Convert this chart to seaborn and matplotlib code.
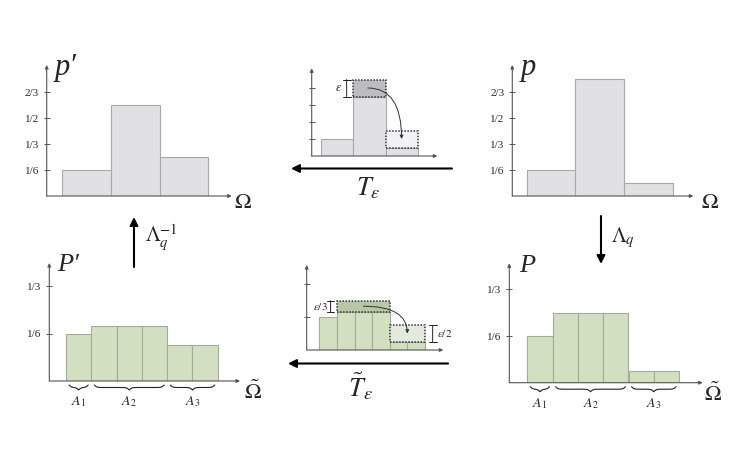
import numpy as np
import pandas as pd
import matplotlib
matplotlib.use("Agg")
import matplotlib.pyplot as plt
from matplotlib.patches import FancyArrowPatch
import seaborn as sns

# ==========================================
# DATA
# ==========================================
P_PRIME = [1/6, 7/12, 1/4]          # p'  (top left)
P_ORIG = [1/6, 3/4, 1/12]           # p   (top right)
P_COARSE = [1/6, 1/4, 1/4, 1/4, 1/24, 1/24]        # P   (bottom right)
P_COARSE_PRIME = [1/6, 7/36, 7/36, 7/36, 1/8, 1/8]  # P'  (bottom left)

EPS = 1/6
# T_eps sketch (top middle): remaining bars and moved block
T_BARS = [1/6, 7/12, 1/12]
T_SRC = (1, 7/12, EPS)      # bar index, bottom, height
T_DST = (2, 1/12, EPS)
# T~_eps sketch (bottom middle)
TT_BARS = [1/6, 7/36, 7/36, 7/36, 1/24, 1/24]
TT_SRC = (2.0, 3, 7/36, EPS / 3)   # centre, width (bins), bottom, height
TT_DST = (4.5, 2, 1/24, EPS / 2)

TOP_TICKS = [1/6, 1/3, 1/2, 2/3]
TOP_TICKLABELS = ["1/6", "1/3", "1/2", "2/3"]
BOTTOM_TICKS = [1/6, 1/3]
BOTTOM_TICKLABELS = ["1/6", "1/3"]
GROUPS = [(0, 0, r"$A_1$"), (1, 3, r"$A_2$"), (4, 5, r"$A_3$")]

# ==========================================
# STYLE
# ==========================================
W, H = 747, 449
GRAY_FACE, GRAY_EDGE = "#e1e0e3", "#a9a8ab"
GREEN_FACE, GREEN_EDGE = "#d3dfc1", "#a2ac98"
AXIS_COL = "#555555"

sns.set_theme(style="white")
plt.rcParams["font.family"] = ["Liberation Serif", "DejaVu Serif"]
plt.rcParams["mathtext.fontset"] = "stix"

fig = plt.figure(figsize=(W / 100, H / 100), dpi=100)


def px(x, y):
    return x / W, 1 - y / H


def make_panel(vals, face, edge, x0, ybase, xend, ytop, bw, b0, scale):
    ax = fig.add_axes([x0 / W, 1 - ybase / H, (xend - x0) / W, (ybase - ytop) / H])
    df = pd.DataFrame({"bin": [str(i) for i in range(len(vals))], "p": vals})
    sns.barplot(data=df, x="bin", y="p", width=1, color=face, saturation=1,
                edgecolor=edge, linewidth=0.8, ax=ax)
    ax.set_xlabel("")
    ax.set_ylabel("")
    ax.set_xticks([])
    left = -0.5 - (b0 - x0) / bw
    ax.set_xlim(left, left + (xend - x0) / bw)
    ax.set_ylim(0, (ybase - ytop) / scale)
    ax.patch.set_alpha(0)
    for s in ax.spines.values():
        s.set_visible(False)
    arrow = dict(arrowstyle="-|>", lw=0.8, color=AXIS_COL, mutation_scale=5,
                 shrinkA=0, shrinkB=0)
    ax.annotate("", xy=(1, 0), xytext=(0, 0), xycoords="axes fraction", arrowprops=arrow)
    ax.annotate("", xy=(0, 1), xytext=(0, 0), xycoords="axes fraction", arrowprops=arrow)
    ax.tick_params(axis="y", direction="inout", length=5, width=0.7, color=AXIS_COL,
                   labelsize=8, pad=3, left=True)
    return ax


def brace(ax, xa, xb, y0, h, beta=20.0):
    xm = (xa + xb) / 2
    half = np.linspace(xa, xm, 60)
    yh = 1 / (1 + np.exp(-beta * (half - xa))) + 1 / (1 + np.exp(-beta * (half - xm)))
    yh = (yh - yh[0]) / (yh[-1] - yh[0])
    xs = np.concatenate([half, (2 * xm - half)[::-1]])
    ys = np.concatenate([yh, yh[::-1]])
    ax.plot(xs, y0 - h * ys, color="#222222", lw=0.8, clip_on=False)


def group_braces(ax, scale):
    for a, b, lab in GROUPS:
        brace(ax, a - 0.5 + 0.12, b + 0.5 - 0.12, -4 / scale, 5 / scale)
        ax.text((a + b) / 2, -21 / scale, lab, ha="center", va="center", fontsize=10)


def box(ax, x, bottom, height, width, face):
    ax.bar(x, height, bottom=bottom, width=width, color=face, edgecolor="#333333",
           linewidth=1.1, linestyle=(0, (1, 1)), zorder=3)


def bracket(ax, x, y0, y1):
    ax.annotate("", xy=(x, y1), xytext=(x, y0),
                arrowprops=dict(arrowstyle="|-|, widthA=0.35, widthB=0.35", lw=0.7,
                                color="#222222", mutation_scale=8, shrinkA=0, shrinkB=0),
                annotation_clip=False)


def curved(ax, start, end):
    ax.annotate("", xy=end, xytext=start,
                arrowprops=dict(arrowstyle="-|>", connectionstyle="angle3,angleA=0,angleB=90",
                                lw=0.7, color="#333333", mutation_scale=5,
                                shrinkA=0, shrinkB=0), zorder=4)


# ---- top left: p'
ax1 = make_panel(P_PRIME, GRAY_FACE, GRAY_EDGE, 46.7, 196, 231.7, 65, 48.7, 62.3, 156)
ax1.set_yticks(TOP_TICKS, TOP_TICKLABELS)

# ---- top right: p
ax2 = make_panel(P_ORIG, GRAY_FACE, GRAY_EDGE, 512.3, 196, 693.3, 65, 48.7, 526.7, 156)
ax2.set_yticks(TOP_TICKS, TOP_TICKLABELS)

# ---- top middle: T_eps sketch
ax3 = make_panel(T_BARS, GRAY_FACE, GRAY_EDGE, 311.7, 156, 437.3, 68.3, 32.1, 321.3, 102)
ax3.set_yticks(TOP_TICKS, [""] * len(TOP_TICKS))
ax3.tick_params(axis="y", length=4)
box(ax3, T_SRC[0], T_SRC[1], T_SRC[2], 1, "#bdbcbf")
box(ax3, T_DST[0], T_DST[1], T_DST[2], 1, "#f2f2f4")
bracket(ax3, 0.29, T_SRC[1], T_SRC[1] + T_SRC[2])
ax3.text(0.05, T_SRC[1] + T_SRC[2] / 2, r"$\varepsilon$", ha="center", va="center", fontsize=9)
curved(ax3, (T_SRC[0] - 0.05, T_SRC[1] + T_SRC[2] / 2), (T_DST[0], T_DST[1] + T_DST[2] / 2))

# ---- bottom left: P'
ax4 = make_panel(P_COARSE_PRIME, GREEN_FACE, GREEN_EDGE, 49.3, 381, 240, 263, 25.3, 66, 285)
ax4.set_yticks(BOTTOM_TICKS, BOTTOM_TICKLABELS)
group_braces(ax4, 285)

# ---- bottom right: P
ax5 = make_panel(P_COARSE, GREEN_FACE, GREEN_EDGE, 509.3, 382.7, 702.7, 263.3, 25.3, 527.3, 280)
ax5.set_yticks(BOTTOM_TICKS, BOTTOM_TICKLABELS)
group_braces(ax5, 280)

# ---- bottom middle: T~_eps sketch
ax6 = make_panel(TT_BARS, GREEN_FACE, GREEN_EDGE, 306.7, 350, 443.3, 265, 17.6, 319.3, 197)
ax6.set_yticks(BOTTOM_TICKS, [""] * len(BOTTOM_TICKS))
ax6.tick_params(axis="y", length=4)
box(ax6, TT_SRC[0], TT_SRC[2], TT_SRC[3], TT_SRC[1], "#b7c6a4")
box(ax6, TT_DST[0], TT_DST[2], TT_DST[3], TT_DST[1], "#e3eadc")
bracket(ax6, 0.14, TT_SRC[2], TT_SRC[2] + TT_SRC[3])
ax6.text(-0.45, TT_SRC[2] + TT_SRC[3] / 2, r"$\varepsilon/3$", ha="center", va="center",
         fontsize=8)
bracket(ax6, 5.94, TT_DST[2], TT_DST[2] + TT_DST[3])
ax6.text(6.2, TT_DST[2] + TT_DST[3] / 2, r"$\varepsilon/2$", ha="left", va="center",
         fontsize=8, clip_on=False)
curved(ax6, (TT_SRC[0], TT_SRC[2] + TT_SRC[3] / 2), (TT_DST[0], TT_DST[2] + TT_DST[3] / 2))

# ---- panel labels
lab = dict(ha="center", va="center", fontstyle="italic")
fig.text(*px(66, 68), "p\u2032", fontsize=22, **lab)
fig.text(*px(528.5, 68), "p", fontsize=22, **lab)
fig.text(*px(68, 265), "P\u2032", fontsize=19, **lab)
fig.text(*px(527, 266), "P", fontsize=19, **lab)
fig.text(*px(243, 204), r"$\Omega$", fontsize=16, ha="center", va="center")
fig.text(*px(710, 204), r"$\Omega$", fontsize=16, ha="center", va="center")
fig.text(*px(253, 392), r"$\tilde{\Omega}$", fontsize=16, ha="center", va="center")
fig.text(*px(713, 394), r"$\tilde{\Omega}$", fontsize=16, ha="center", va="center")

# ---- big arrows between panels
big = dict(arrowstyle="-|>", lw=1.5, color="black", mutation_scale=12, shrinkA=0, shrinkB=0)
fig.add_artist(FancyArrowPatch(px(452, 168.5), px(291, 168.5), transform=fig.transFigure, **big))
fig.add_artist(FancyArrowPatch(px(448, 363.5), px(288, 363.5), transform=fig.transFigure, **big))
fig.add_artist(FancyArrowPatch(px(134, 267), px(134, 217), transform=fig.transFigure, **big))
fig.add_artist(FancyArrowPatch(px(601, 216), px(601, 264), transform=fig.transFigure, **big))

fig.text(*px(368, 188), r"$T_\varepsilon$", fontsize=19, ha="center", va="center")
fig.text(*px(360, 386), r"$\tilde{T}_\varepsilon$", fontsize=19, ha="center", va="center")
fig.text(*px(145, 238), r"$\Lambda_q^{-1}$", fontsize=15, ha="left", va="center")
fig.text(*px(611, 238), r"$\Lambda_q$", fontsize=15, ha="left", va="center")

fig.savefig("out.png", dpi=100)
